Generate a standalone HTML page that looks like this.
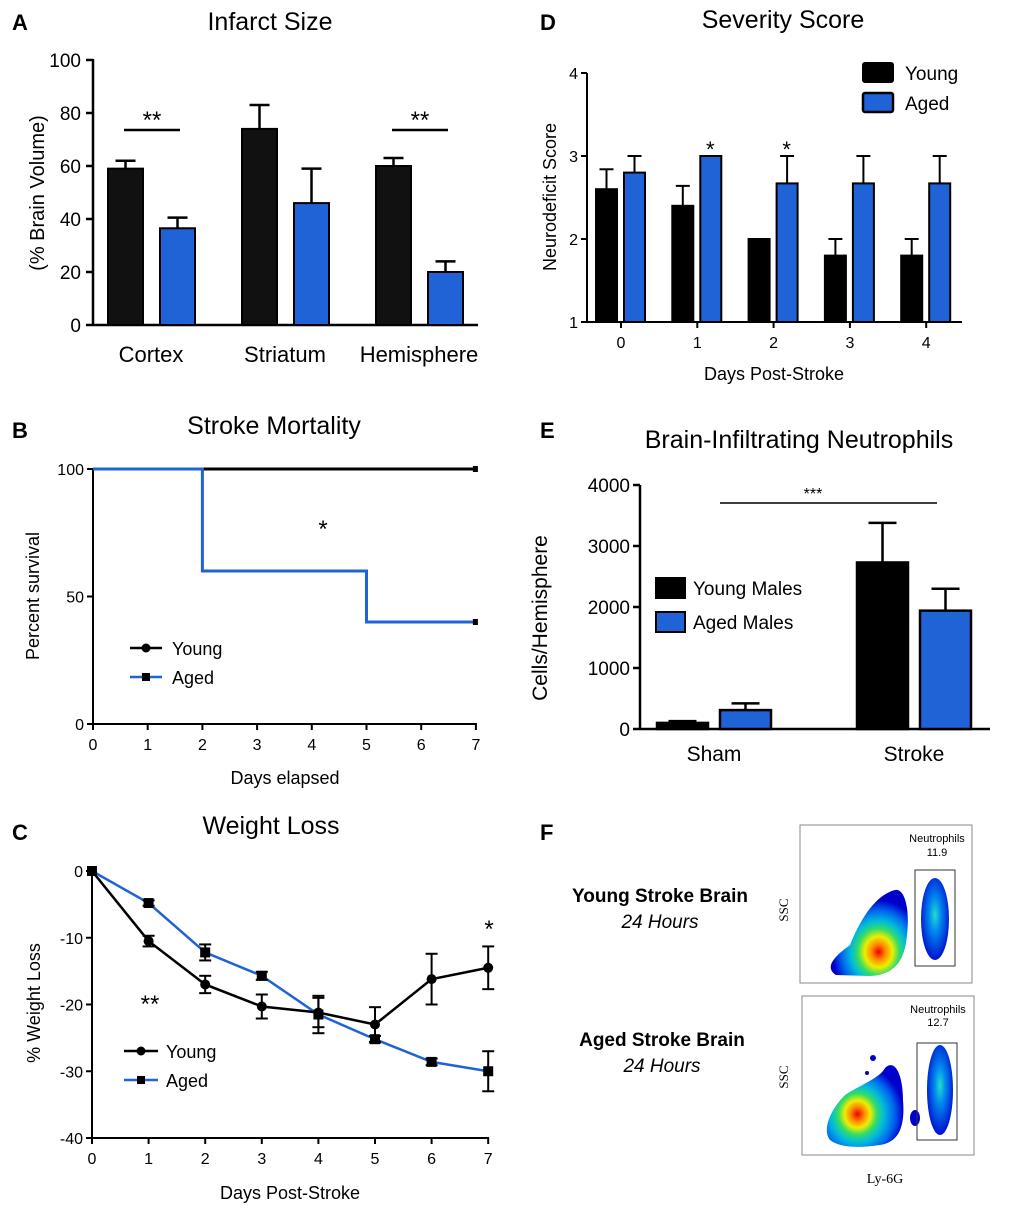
<!DOCTYPE html>
<html><head><meta charset="utf-8">
<style>
html,body{margin:0;padding:0;background:#fff;}
svg{display:block;font-family:"Liberation Sans",Arial,sans-serif;}
</style></head>
<body>
<svg id="fig" width="1020" height="1213" viewBox="0 0 1020 1213" xmlns="http://www.w3.org/2000/svg">
<defs>
<radialGradient id="gY" cx="0.62" cy="0.72" r="0.6">
<stop offset="0" stop-color="#e00"/><stop offset="0.15" stop-color="#f80"/><stop offset="0.3" stop-color="#ee0"/><stop offset="0.45" stop-color="#3d6"/><stop offset="0.6" stop-color="#0bd"/><stop offset="0.8" stop-color="#06e"/><stop offset="1" stop-color="#00c"/></radialGradient>
<radialGradient id="gN" cx="0.5" cy="0.45" r="0.6">
<stop offset="0" stop-color="#2dc"/><stop offset="0.35" stop-color="#08e"/><stop offset="1" stop-color="#00c"/></radialGradient>
<radialGradient id="gA" cx="0.4" cy="0.6" r="0.6">
<stop offset="0" stop-color="#e00"/><stop offset="0.15" stop-color="#f80"/><stop offset="0.28" stop-color="#ee0"/><stop offset="0.42" stop-color="#3d6"/><stop offset="0.58" stop-color="#0bd"/><stop offset="0.8" stop-color="#06e"/><stop offset="1" stop-color="#00c"/></radialGradient>
</defs>
<g id="root"></g>
</svg>
<script>
// Panel A data
const aCats=["Cortex","Striatum","Hemisphere"];
const aYoung=[59,74,60];const aYoungErr=[3,9,3];
const aAged=[36.5,46,20];const aAgedErr=[4,13,4];
const aTicks=[0,20,40,60,80,100];
// Panel B data
const bDays=[0,1,2,3,4,5,6,7];
const bYoungSurv=[100,100,100,100,100,100,100,100];
const bAgedSurv=[100,100,60,60,60,40,40,40];
const bTicks=[0,50,100];
// Panel C data
const cDays=[0,1,2,3,4,5,6,7];
const cYoung=[0,-10.5,-17,-20.3,-21.2,-23,-16.2,-14.5];
const cYoungErr=[0,0.8,1.3,1.8,2.2,2.6,3.8,3.2];
const cAged=[0,-4.8,-12.2,-15.7,-21.5,-25.2,-28.6,-30];
const cAgedErr=[0,0.4,1.2,0.6,2.8,0.5,0.5,3];
const cTicks=[0,-10,-20,-30,-40];
// Panel D data
const dDays=["0","1","2","3","4"];
const dYoung=[2.6,2.4,2.0,1.8,1.8];const dYoungErr=[0.24,0.24,0,0.2,0.2];
const dAged=[2.8,3.0,2.67,2.67,2.67];const dAgedErr=[0.2,0,0.33,0.33,0.33];
const dTicks=[1,2,3,4];
// Panel E data
const eCats=["Sham","Stroke"];
const eYoung=[100,2730];const eYoungErr=[30,650];
const eAged=[310,1940];const eAgedErr=[110,360];
const eTicks=[0,1000,2000,3000,4000];

const NS="http://www.w3.org/2000/svg";
const root=document.getElementById('root');
function el(tag,attrs,parent,text){const e=document.createElementNS(NS,tag);for(const k in attrs)e.setAttribute(k,attrs[k]);if(text!==undefined)e.textContent=text;(parent||root).appendChild(e);return e;}
const BLUE="#1f63d6";

// panel letters
[["A",12,30],["D",540,30],["B",12,438],["E",540,438],["C",12,840],["F",540,840]].forEach(p=>{
 const t=el('text',{x:p[1],y:p[2],'font-size':22,'font-weight':'bold'},root,p[0]);
 
 
});
function title(x,y,s,name,size){const t=el('text',{x:x,y:y,'font-size':size||25,'text-anchor':'middle'},root,s);
 
 return t;}

// ---------- Panel A ----------
(function(){
 const g=el('g',{});
 const y=v=>325-v*2.65;const x0=93;
 const groupX=[108,242,376];
 el('line',{x1:x0,y1:y(100)-1,x2:x0,y2:325,stroke:'#000','stroke-width':2.5},g);
 el('line',{x1:x0,y1:325,x2:478,y2:325,stroke:'#000','stroke-width':2.5},g);
 aTicks.forEach(t=>{el('line',{x1:x0-7,y1:y(t),x2:x0,y2:y(t),stroke:'#000','stroke-width':2.5},g);
  const tx=el('text',{x:x0-12,y:y(t)+7,'font-size':19,'text-anchor':'end'},g,String(t));
  
  });
 aCats.forEach((c,i)=>{
  const bx=groupX[i];
  [[aYoung,aYoungErr,bx,'#111'],[aAged,aAgedErr,bx+52,BLUE]].forEach(s=>{
   const v=s[0][i],e=s[1][i],xx=s[2],w=35;
   el('line',{x1:xx+w/2,y1:y(v+e),x2:xx+w/2,y2:y(v),stroke:'#000','stroke-width':2.5},g);
   el('line',{x1:xx+w/2-10,y1:y(v+e),x2:xx+w/2+10,y2:y(v+e),stroke:'#000','stroke-width':2.5},g);
   const r=el('rect',{x:xx,y:y(v),width:w,height:325-y(v),fill:s[3],stroke:'#000','stroke-width':2},g);
   
   
  });
  const l=el('text',{x:bx+43,y:362,'font-size':22,'text-anchor':'middle'},g,c);
  
  
 });
 [[0],[2]].forEach(a=>{const bx=groupX[a[0]];el('line',{x1:bx+16,y1:130,x2:bx+72,y2:130,stroke:'#000','stroke-width':2.5},g);
  el('text',{x:bx+44,y:128,'font-size':24,'text-anchor':'middle'},g,'**');});
 const yt=el('text',{transform:'translate(44,193) rotate(-90)','font-size':20,'text-anchor':'middle'},g,'(% Brain Volume)');
 
 
})();
title(270,30,'Infarct Size','a-title');

// ---------- Panel B ----------
(function(){
 const g=el('g',{});
 const x=d=>93+d*54.7,y=v=>724-v*2.55;
 el('line',{x1:93,y1:y(100),x2:93,y2:724,stroke:'#000','stroke-width':2},g);
 el('line',{x1:93,y1:724,x2:477,y2:724,stroke:'#000','stroke-width':2},g);
 bTicks.forEach(t=>{el('line',{x1:87,y1:y(t),x2:93,y2:y(t),stroke:'#000','stroke-width':2},g);
  el('text',{x:84,y:y(t)+6,'font-size':16,'text-anchor':'end'},g,String(t));});
 bDays.forEach(d=>{el('line',{x1:x(d),y1:724,x2:x(d),y2:730,stroke:'#000','stroke-width':2},g);
  el('text',{x:x(d),y:750,'font-size':16,'text-anchor':'middle'},g,String(d));});
 function step(arr){let p=`M${x(bDays[0])},${y(arr[0])}`;for(let i=1;i<arr.length;i++){p+=` L${x(bDays[i])},${y(arr[i-1])} L${x(bDays[i])},${y(arr[i])}`;}return p;}
 const ly=el('path',{d:step(bYoungSurv),fill:'none',stroke:'#000','stroke-width':3},g);
 
 const la=el('path',{d:step(bAgedSurv),fill:'none',stroke:BLUE,'stroke-width':3},g);
 
 el('rect',{x:x(7)-3,y:y(bYoungSurv[7])-3,width:5,height:6,fill:'#000'},g);
 el('rect',{x:x(7)-3,y:y(bAgedSurv[7])-3,width:5,height:6,fill:'#000'},g);
 el('text',{x:323,y:537,'font-size':24,'text-anchor':'middle'},g,'*');
 el('line',{x1:130,y1:648,x2:162,y2:648,stroke:'#000','stroke-width':2.5},g);el('circle',{cx:146,cy:648,r:4.5,fill:'#000'},g);
 el('text',{x:172,y:655,'font-size':18},g,'Young');
 el('line',{x1:130,y1:677,x2:162,y2:677,stroke:BLUE,'stroke-width':2.5},g);el('rect',{x:142,y:673,width:8,height:8,fill:'#000'},g);
 el('text',{x:172,y:684,'font-size':18},g,'Aged');
 el('text',{x:285,y:784,'font-size':18,'text-anchor':'middle'},g,'Days elapsed');
 el('text',{transform:'translate(39,596) rotate(-90)','font-size':18,'text-anchor':'middle'},g,'Percent survival');
})();
title(274,434,'Stroke Mortality','b-title');

// ---------- Panel C ----------
(function(){
 const g=el('g',{});
 const x=d=>92+d*56.6,y=v=>871-v*6.675;
 el('line',{x1:92,y1:871,x2:92,y2:1138,stroke:'#000','stroke-width':2},g);
 el('line',{x1:92,y1:1138,x2:489,y2:1138,stroke:'#000','stroke-width':2},g);
 cTicks.forEach(t=>{el('line',{x1:86,y1:y(t),x2:92,y2:y(t),stroke:'#000','stroke-width':2},g);
  el('text',{x:83,y:y(t)+6,'font-size':16,'text-anchor':'end'},g,String(t));});
 cDays.forEach(d=>{el('line',{x1:x(d),y1:1138,x2:x(d),y2:1144,stroke:'#000','stroke-width':2},g);
  el('text',{x:x(d),y:1164,'font-size':16,'text-anchor':'middle'},g,String(d));});
 function series(vals,errs,color,marker,name){
  const pts=vals.map((v,i)=>x(cDays[i])+','+y(v)).join(' ');
  const pl=el('polyline',{points:pts,fill:'none',stroke:color,'stroke-width':2.5},g);
  
  vals.forEach((v,i)=>{const cx=x(cDays[i]),e=errs[i];
   if(e>0){el('line',{x1:cx,y1:y(v+e),x2:cx,y2:y(v-e),stroke:'#000','stroke-width':2},g);
    el('line',{x1:cx-6,y1:y(v+e),x2:cx+6,y2:y(v+e),stroke:'#000','stroke-width':2},g);
    el('line',{x1:cx-6,y1:y(v-e),x2:cx+6,y2:y(v-e),stroke:'#000','stroke-width':2},g);}
   if(marker==='c')el('circle',{cx:cx,cy:y(v),r:5,fill:'#000'},g);
   else el('rect',{x:cx-5,y:y(v)-5,width:10,height:10,fill:'#000'},g);
  });
 }
 series(cAged,cAgedErr,BLUE,'s','c-aged-line');
 series(cYoung,cYoungErr,'#000','c','c-young-line');
 el('text',{x:150,y:1012,'font-size':24,'text-anchor':'middle'},g,'**');
 el('text',{x:489,y:937,'font-size':24,'text-anchor':'middle'},g,'*');
 el('line',{x1:124,y1:1051,x2:158,y2:1051,stroke:'#000','stroke-width':2.5},g);el('circle',{cx:141,cy:1051,r:4.5,fill:'#000'},g);
 el('text',{x:166,y:1058,'font-size':18},g,'Young');
 el('line',{x1:124,y1:1080,x2:158,y2:1080,stroke:BLUE,'stroke-width':2.5},g);el('rect',{x:137,y:1076,width:8,height:8,fill:'#000'},g);
 el('text',{x:166,y:1087,'font-size':18},g,'Aged');
 el('text',{x:290,y:1199,'font-size':18,'text-anchor':'middle'},g,'Days Post-Stroke');
 el('text',{transform:'translate(40,1003) rotate(-90)','font-size':18,'text-anchor':'middle'},g,'% Weight Loss');
})();
title(271,834,'Weight Loss','c-title');

// ---------- Panel D ----------
(function(){
 const g=el('g',{});
 const y=v=>322-(v-1)*83;const cx=i=>621+i*76.3;
 el('line',{x1:587,y1:y(4),x2:587,y2:322,stroke:'#000','stroke-width':2},g);
 el('line',{x1:587,y1:322,x2:962,y2:322,stroke:'#000','stroke-width':2},g);
 dTicks.forEach(t=>{el('line',{x1:581,y1:y(t),x2:587,y2:y(t),stroke:'#000','stroke-width':2},g);
  el('text',{x:578,y:y(t)+6,'font-size':16,'text-anchor':'end'},g,String(t));});
 dDays.forEach((d,i)=>{
  el('line',{x1:cx(i),y1:322,x2:cx(i),y2:328,stroke:'#000','stroke-width':2},g);
  el('text',{x:cx(i),y:348,'font-size':16,'text-anchor':'middle'},g,d);
  [[dYoung,dYoungErr,cx(i)-25,'#000'],[dAged,dAgedErr,cx(i)+3,BLUE]].forEach(s=>{
   const v=s[0][i],e=s[1][i],xx=s[2],w=21;
   if(e>0){el('line',{x1:xx+w/2,y1:y(v+e),x2:xx+w/2,y2:y(v),stroke:'#000','stroke-width':2},g);
    el('line',{x1:xx+w/2-7,y1:y(v+e),x2:xx+w/2+7,y2:y(v+e),stroke:'#000','stroke-width':2},g);}
   const r=el('rect',{x:xx,y:y(v),width:w,height:322-y(v),fill:s[3],stroke:'#000','stroke-width':2},g);
   
   
  });
 });
 [1,2].forEach(i=>el('text',{x:cx(i)+13,y:157,'font-size':22,'text-anchor':'middle'},g,'*'));
 el('rect',{x:863,y:63,width:30,height:19,rx:2,fill:'#000',stroke:'#000','stroke-width':2},g);
 el('text',{x:905,y:80,'font-size':19},g,'Young');
 el('rect',{x:863,y:93,width:30,height:19,rx:2,fill:BLUE,stroke:'#000','stroke-width':2.5},g);
 el('text',{x:905,y:110,'font-size':19},g,'Aged');
 el('text',{x:774,y:380,'font-size':18,'text-anchor':'middle'},g,'Days Post-Stroke');
 el('text',{transform:'translate(556,197) rotate(-90)','font-size':18,'text-anchor':'middle'},g,'Neurodeficit Score');
})();
title(783,28,'Severity Score','d-title');

// ---------- Panel E ----------
(function(){
 const g=el('g',{});
 const y=v=>729-v*0.061;const gx=[657,857];
 el('line',{x1:640,y1:y(4000),x2:640,y2:729,stroke:'#000','stroke-width':2.5},g);
 el('line',{x1:640,y1:729,x2:990,y2:729,stroke:'#000','stroke-width':2.5},g);
 eTicks.forEach(t=>{el('line',{x1:633,y1:y(t),x2:640,y2:y(t),stroke:'#000','stroke-width':2.5},g);
  el('text',{x:630,y:y(t)+7,'font-size':19,'text-anchor':'end'},g,String(t));});
 eCats.forEach((c,i)=>{
  [[eYoung,eYoungErr,gx[i],'#000'],[eAged,eAgedErr,gx[i]+63,BLUE]].forEach(s=>{
   const v=s[0][i],e=s[1][i],xx=s[2],w=51;
   el('line',{x1:xx+w/2,y1:y(v+e),x2:xx+w/2,y2:y(v),stroke:'#000','stroke-width':2.5},g);
   el('line',{x1:xx+w/2-14,y1:y(v+e),x2:xx+w/2+14,y2:y(v+e),stroke:'#000','stroke-width':2.5},g);
   const r=el('rect',{x:xx,y:y(v),width:w,height:729-y(v),fill:s[3],stroke:'#000','stroke-width':2.5},g);
   
   
  });
  el('text',{x:gx[i]+57,y:761,'font-size':21,'text-anchor':'middle'},g,c);
 });
 el('line',{x1:720,y1:503,x2:937,y2:503,stroke:'#000','stroke-width':1.5},g);
 el('text',{x:813,y:499,'font-size':16,'text-anchor':'middle'},g,'***');
 el('rect',{x:656,y:578,width:29,height:20,fill:'#000',stroke:'#000','stroke-width':2},g);
 el('text',{x:693,y:595,'font-size':19},g,'Young Males');
 el('rect',{x:656,y:612,width:29,height:20,fill:BLUE,stroke:'#000','stroke-width':2},g);
 el('text',{x:693,y:629,'font-size':19},g,'Aged Males');
 el('text',{transform:'translate(547,618) rotate(-90)','font-size':21,'text-anchor':'middle'},g,'Cells/Hemisphere');
})();
title(799,448,'Brain-Infiltrating Neutrophils','e-title');

// ---------- Panel F ----------
(function(){
 const g=el('g',{});
 el('text',{x:660,y:902,'font-size':19,'font-weight':'bold','text-anchor':'middle'},g,'Young Stroke Brain');
 el('text',{x:660,y:928,'font-size':19,'font-style':'italic','text-anchor':'middle'},g,'24 Hours');
 el('text',{x:662,y:1046,'font-size':19,'font-weight':'bold','text-anchor':'middle'},g,'Aged Stroke Brain');
 el('text',{x:662,y:1072,'font-size':19,'font-style':'italic','text-anchor':'middle'},g,'24 Hours');
 // plot 1
 const p1=el('rect',{x:800,y:825,width:172,height:158,fill:'#fff',stroke:'#888','stroke-width':1},g);
 
 el('path',{d:'M836,975 C825,968 832,958 850,945 C860,920 875,895 895,890 C905,888 910,910 907,935 C905,960 895,975 870,976 Z',fill:'url(#gY)'},g);
 el('rect',{x:915,y:870,width:40,height:96,fill:'none',stroke:'#333','stroke-width':1},g);
 el('ellipse',{cx:935,cy:919,rx:14,ry:41,fill:'url(#gN)'},g);
 el('text',{x:937,y:842,'font-size':11,'text-anchor':'middle'},g,'Neutrophils');
 el('text',{x:937,y:856,'font-size':11,'text-anchor':'middle'},g,'11.9');
 el('text',{transform:'translate(788,910) rotate(-90)','font-size':13,'font-family':'Liberation Serif,serif','text-anchor':'middle'},g,'SSC');
 // plot 2
 const p2=el('rect',{x:802,y:996,width:172,height:159,fill:'#fff',stroke:'#888','stroke-width':1},g);
 
 el('path',{d:'M830,1140 C822,1130 830,1110 845,1095 C860,1085 880,1078 885,1068 C895,1058 903,1075 903,1100 C905,1125 900,1142 880,1145 C860,1148 840,1148 830,1140 Z',fill:'url(#gA)'},g);
 el('circle',{cx:873,cy:1058,r:3,fill:'#00c'},g);
 el('circle',{cx:867,cy:1073,r:2,fill:'#00c'},g);
 el('ellipse',{cx:915,cy:1118,rx:5,ry:8,fill:'#00c'},g);
 el('rect',{x:917,y:1043,width:40,height:97,fill:'none',stroke:'#333','stroke-width':1},g);
 el('ellipse',{cx:940,cy:1090,rx:13,ry:45,fill:'url(#gN)'},g);
 el('text',{x:938,y:1013,'font-size':11,'text-anchor':'middle'},g,'Neutrophils');
 el('text',{x:938,y:1026,'font-size':11,'text-anchor':'middle'},g,'12.7');
 el('text',{transform:'translate(788,1077) rotate(-90)','font-size':13,'font-family':'Liberation Serif,serif','text-anchor':'middle'},g,'SSC');
 el('text',{x:885,y:1183,'font-size':14,'font-family':'Liberation Serif,serif','text-anchor':'middle'},g,'Ly-6G');
})();
</script>
</body></html>
